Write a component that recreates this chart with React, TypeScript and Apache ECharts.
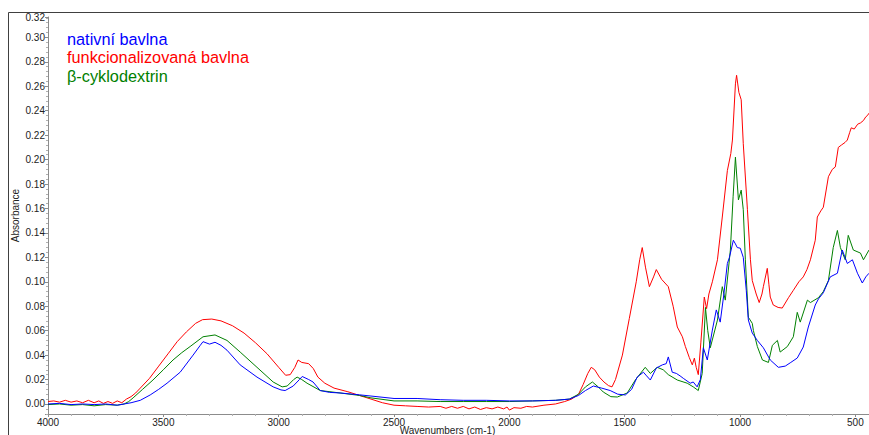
import React, { useEffect, useRef } from 'react';
import * as echarts from 'echarts';

const seriesNames = ['nativní bavlna', 'funkcionalizovaná bavlna', 'β-cyklodextrin'];
const seriesColors = ['#0000ff', '#ff0000', '#008000'];

const xTickValues = [4000, 3500, 3000, 2500, 2000, 1500, 1000, 500];

const nativeData: number[][] = [
  [4000, 0.0], [3950, 0.0005], [3900, -0.0005], [3850, 0.0], [3800, -0.0005], [3750, 0.0], [3700, -0.001],
  [3670, 0.0], [3640, 0.001], [3600, 0.003], [3557, 0.0074], [3520, 0.012], [3484, 0.017], [3427, 0.026],
  [3371, 0.04], [3340, 0.048], [3328, 0.051], [3300, 0.049], [3276, 0.0505], [3250, 0.048], [3224, 0.044],
  [3167, 0.032], [3094, 0.022], [3024, 0.014], [2990, 0.0115], [2972, 0.011], [2937, 0.0147], [2910, 0.02],
  [2898, 0.0225], [2870, 0.02], [2851, 0.018], [2820, 0.011], [2780, 0.0095], [2734, 0.009], [2650, 0.0075],
  [2600, 0.0065], [2500, 0.0045], [2400, 0.0045], [2300, 0.0035], [2200, 0.003], [2100, 0.003], [2000, 0.0025],
  [1900, 0.0025], [1800, 0.003], [1740, 0.004], [1700, 0.007], [1670, 0.011], [1636, 0.0147], [1600, 0.013],
  [1563, 0.011], [1530, 0.008], [1497, 0.0074], [1470, 0.012], [1446, 0.022], [1419, 0.026], [1405, 0.023],
  [1389, 0.0196], [1363, 0.0294], [1337, 0.032], [1320, 0.033], [1311, 0.0385], [1294, 0.026], [1276, 0.025],
  [1260, 0.023], [1246, 0.021], [1216, 0.017], [1203, 0.018], [1186, 0.014], [1172, 0.02], [1159, 0.046],
  [1142, 0.036], [1120, 0.0605], [1103, 0.077], [1086, 0.067], [1070, 0.09], [1055, 0.115], [1046, 0.12],
  [1029, 0.134], [1020, 0.131], [1012, 0.128], [999, 0.1275], [986, 0.12], [973, 0.093], [964, 0.0687],
  [947, 0.058], [925, 0.052], [899, 0.046], [869, 0.036], [834, 0.03], [804, 0.031], [780, 0.034], [752, 0.0376],
  [726, 0.0466], [704, 0.063], [674, 0.081], [660, 0.086], [639, 0.091], [609, 0.104], [578, 0.107], [557, 0.126],
  [535, 0.115], [513, 0.118], [491, 0.107], [470, 0.099], [455, 0.104], [441, 0.107],
];

const functionalizedData: number[][] = [
  [4000, 0.002], [3975, 0.0025], [3950, 0.0015], [3925, 0.003], [3900, 0.0015], [3875, 0.0025], [3850, 0.001],
  [3825, 0.003], [3800, 0.001], [3780, 0.0025], [3760, 0.0005], [3740, 0.002], [3720, 0.0005], [3700, 0.0025],
  [3680, 0.001], [3660, 0.004], [3640, 0.006], [3620, 0.009], [3600, 0.013], [3560, 0.021],
  [3520, 0.031], [3480, 0.041], [3440, 0.051], [3400, 0.059], [3360, 0.066], [3330, 0.069], [3290, 0.0695],
  [3250, 0.068], [3200, 0.064], [3150, 0.058], [3100, 0.05], [3050, 0.041], [3000, 0.03], [2970, 0.0235],
  [2950, 0.024], [2930, 0.03], [2916, 0.036], [2900, 0.034], [2870, 0.033], [2850, 0.029], [2830, 0.022],
  [2800, 0.017], [2760, 0.013], [2700, 0.01], [2650, 0.007], [2600, 0.004], [2550, 0.001], [2500, -0.001],
  [2450, -0.0015], [2400, -0.002], [2350, -0.0025], [2300, -0.002], [2275, -0.0035], [2250, -0.002],
  [2225, -0.0035], [2200, -0.002], [2175, -0.004], [2150, -0.0025], [2125, -0.0045], [2100, -0.003],
  [2075, -0.004], [2050, -0.0025], [2025, -0.004], [2010, -0.0025], [2000, -0.005], [1980, -0.003],
  [1950, -0.0035], [1925, -0.002], [1900, -0.0025], [1850, -0.001], [1800, 0.0], [1760, 0.002], [1730, 0.004],
  [1700, 0.008], [1680, 0.016], [1660, 0.025], [1645, 0.03], [1630, 0.028], [1610, 0.022], [1590, 0.018],
  [1570, 0.015], [1555, 0.014], [1540, 0.02], [1510, 0.04], [1480, 0.07], [1450, 0.1], [1435, 0.118],
  [1424, 0.128], [1410, 0.112], [1393, 0.096], [1375, 0.104], [1363, 0.11], [1340, 0.102], [1311, 0.096],
  [1290, 0.08], [1272, 0.063], [1250, 0.055], [1237, 0.047], [1220, 0.038], [1207, 0.032], [1198, 0.0375],
  [1190, 0.03], [1181, 0.024], [1170, 0.05], [1155, 0.0875], [1145, 0.078], [1135, 0.09], [1120, 0.1],
  [1098, 0.118], [1077, 0.153], [1055, 0.191], [1040, 0.205], [1033, 0.216], [1020, 0.262], [1015, 0.269],
  [1005, 0.255], [995, 0.249], [986, 0.213], [968, 0.159], [955, 0.118], [947, 0.101], [930, 0.09], [917, 0.083],
  [905, 0.09], [899, 0.096], [882, 0.111], [875, 0.098], [869, 0.0875], [856, 0.081], [835, 0.079], [817, 0.0785],
  [790, 0.087], [769, 0.093], [745, 0.1], [726, 0.104], [710, 0.11], [695, 0.118], [674, 0.134], [665, 0.153],
  [650, 0.158], [639, 0.161], [617, 0.186], [600, 0.192], [587, 0.194], [574, 0.21], [560, 0.212], [545, 0.214],
  [535, 0.216], [525, 0.222], [518, 0.226], [505, 0.225], [490, 0.229], [478, 0.23], [465, 0.232], [455, 0.235],
  [448, 0.236], [441, 0.238],
];

const cyclodextrinData: number[][] = [
  [4000, -0.0005], [3950, 0.0], [3900, -0.001], [3850, -0.0005], [3800, -0.0015], [3750, -0.0005], [3700, -0.001],
  [3670, 0.0], [3650, 0.002], [3631, 0.005], [3590, 0.012], [3545, 0.0196], [3500, 0.028], [3458, 0.036],
  [3420, 0.042], [3384, 0.047], [3328, 0.055], [3276, 0.0565], [3224, 0.052], [3167, 0.0425], [3094, 0.03],
  [3024, 0.018], [2985, 0.014], [2963, 0.0147], [2935, 0.02], [2920, 0.022], [2900, 0.02], [2877, 0.017],
  [2820, 0.011], [2734, 0.009], [2650, 0.007], [2600, 0.005], [2500, 0.0025], [2400, 0.0025], [2300, 0.002],
  [2200, 0.002], [2100, 0.002], [2000, 0.002], [1900, 0.0025], [1800, 0.003], [1740, 0.004], [1700, 0.008],
  [1670, 0.014], [1640, 0.018], [1615, 0.014], [1593, 0.0098], [1560, 0.006], [1532, 0.0057], [1489, 0.009],
  [1454, 0.0196], [1411, 0.03], [1389, 0.025], [1359, 0.03], [1333, 0.028], [1311, 0.024], [1272, 0.0196],
  [1229, 0.017], [1203, 0.014], [1181, 0.011], [1164, 0.025], [1150, 0.079], [1140, 0.06], [1129, 0.046],
  [1098, 0.0687], [1077, 0.096], [1064, 0.085], [1042, 0.126], [1030, 0.17], [1020, 0.202], [1007, 0.167],
  [995, 0.175], [986, 0.159], [977, 0.118], [964, 0.071], [947, 0.066], [942, 0.06], [925, 0.047], [903, 0.036],
  [877, 0.034], [860, 0.048], [838, 0.052], [826, 0.0425], [795, 0.047], [769, 0.055], [752, 0.075], [739, 0.067],
  [708, 0.085], [695, 0.083], [660, 0.087], [639, 0.092], [617, 0.101], [596, 0.128], [578, 0.142], [565, 0.128],
  [544, 0.118], [531, 0.138], [509, 0.126], [478, 0.1235], [465, 0.118], [441, 0.126],
];

const FONT = "'Liberation Sans', Arial, sans-serif";

export default function App() {
  const ref = useRef<HTMLDivElement>(null);
  useEffect(() => {
    document.body.style.margin = '0';
    if (!ref.current) return;
    const chart = echarts.init(ref.current, null, { renderer: 'svg' });
    const dataSets = [nativeData, functionalizedData, cyclodextrinData];
    const drawOrder = [1, 2, 0];
    chart.setOption({
      animation: false,
      backgroundColor: '#ffffff',
      textStyle: { fontFamily: FONT },
      grid: { left: 48, top: 17, width: 821, height: 397, outerBoundsMode: 'none', containLabel: false },
      xAxis: {
        type: 'value',
        inverse: true,
        min: 441,
        max: 4000,
        splitNumber: 7,
        name: 'Wavenumbers (cm-1)',
        nameLocation: 'middle',
        nameGap: 11,
        nameMoveOverlap: false,
        nameTextStyle: { fontSize: 10, color: '#222', fontFamily: FONT, lineHeight: 10, padding: [0, 22, 0, 0] },
        axisLine: { show: true, onZero: false, lineStyle: { color: '#8c8c8c', width: 1 } },
        axisTick: { show: true, length: 3, lineStyle: { color: '#8c8c8c' } },
        minorTick: { show: true, splitNumber: 5, length: 2, lineStyle: { color: '#b0b0b0' } },
        splitLine: { show: false },
        axisLabel: {
          fontSize: 10,
          color: '#222',
          margin: 3,
          fontFamily: FONT,
          formatter: (v: number) => (xTickValues.indexOf(Math.round(v)) >= 0 && Math.abs(v - Math.round(v)) < 1e-6 ? String(Math.round(v)) : ''),
        },
      },
      yAxis: {
        type: 'value',
        min: -0.0082,
        max: 0.3167,
        splitNumber: 16,
        name: 'Absorbance',
        nameLocation: 'middle',
        nameGap: 28,
        nameRotate: 90,
        nameMoveOverlap: false,
        nameTextStyle: { fontSize: 10, color: '#222', fontFamily: FONT },
        axisLine: { show: true, onZero: false, lineStyle: { color: '#8c8c8c', width: 1 } },
        axisTick: { show: true, length: 3, lineStyle: { color: '#8c8c8c' } },
        minorTick: { show: true, splitNumber: 5, length: 2, lineStyle: { color: '#b0b0b0' } },
        splitLine: { show: false },
        axisLabel: {
          fontSize: 10,
          color: '#222',
          margin: 3,
          fontFamily: FONT,
          showMaxLabel: true,
          showMinLabel: false,
          formatter: (v: number) => (v < -0.001 ? '' : v.toFixed(2)),
        },
      },
      graphic: [
        {
          type: 'rect',
          shape: { x: 8.5, y: 12.5, width: 900, height: 500 },
          style: { fill: 'none', stroke: '#404040', lineWidth: 1 },
          silent: true,
          z: 0,
        },
        ...seriesNames.map((name, i) => ({
          type: 'text',
          x: 67,
          y: 39 + i * 18.4,
          style: {
            text: name,
            fill: seriesColors[i],
            fontSize: 16.3,
            fontFamily: FONT,
            verticalAlign: 'middle',
            align: 'left',
          },
          z: 10,
        })),
      ],
      series: drawOrder.map((i) => ({
        type: 'line',
        name: seriesNames[i],
        data: dataSets[i],
        showSymbol: false,
        symbol: 'none',
        smooth: false,
        clip: true,
        lineStyle: { color: seriesColors[i], width: 1 },
        itemStyle: { color: seriesColors[i] },
      })),
    });
    return () => chart.dispose();
  }, []);
  return <div ref={ref} style={{ width: 869, height: 435, overflow: 'hidden' }} />;
}
